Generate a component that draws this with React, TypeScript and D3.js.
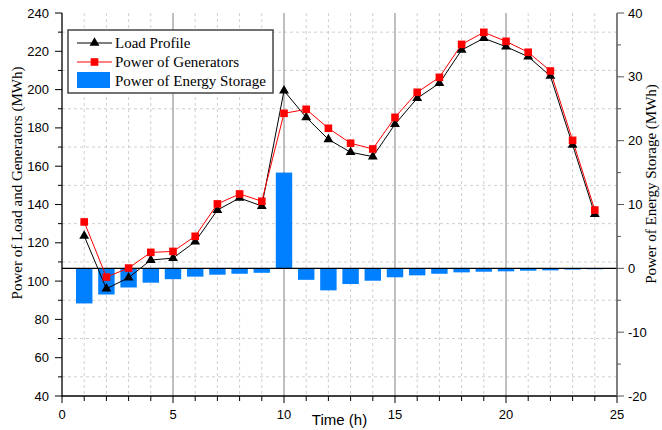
import React from 'react';
import * as d3 from 'd3';

const hours = [1, 2, 3, 4, 5, 6, 7, 8, 9, 10, 11, 12, 13, 14, 15, 16, 17, 18, 19, 20, 21, 22, 23, 24];
const loadProfile = [123.6, 96, 101.8, 111, 112, 120.6, 137.1, 143.4, 139.2, 199.4, 185.5, 174, 167.3, 165, 181.9, 195.5, 203.3, 220.7, 226.8, 222.4, 217.2, 207.1, 171.1, 135];
const generators = [130.9, 102.1, 106.8, 115, 115.5, 123.4, 140.3, 145.5, 141.7, 187.6, 189.7, 179.8, 172, 169, 185.5, 198.6, 206.4, 223.6, 229.9, 225.2, 219.5, 209.7, 173.5, 137.1];
const storage = [-5.5, -4.1, -3.0, -2.25, -1.7, -1.3, -1.0, -0.85, -0.7, 15.0, -1.8, -3.45, -2.46, -1.94, -1.4, -1.1, -0.85, -0.63, -0.53, -0.47, -0.37, -0.32, -0.2, -0.15];

const xTicks = [0, 5, 10, 15, 20, 25];
const leftTicks = [40, 60, 80, 100, 120, 140, 160, 180, 200, 220, 240];
const rightTicks = [-20, -10, 0, 10, 20, 30, 40];

const W = 662;
const H = 430;
const left = 62;
const right = 617;
const top = 13;
const bottom = 396;

const sans = '"Liberation Sans", Arial, sans-serif';
const serif = '"Liberation Serif", "Times New Roman", serif';
const blue = '#0080FF';

const App: React.FC = () => {
  const x = d3.scaleLinear().domain([0, 25]).range([left, right]);
  const yL = d3.scaleLinear().domain([40, 240]).range([bottom, top]);
  const yR = d3.scaleLinear().domain([-20, 40]).range([bottom, top]);

  const barW = (x(1) - x(0)) * 0.74;
  const triangle = d3.symbol().type(d3.symbolTriangle).size(42)()!;
  const square = d3.symbol().type(d3.symbolSquare).size(58)()!;

  const loadLine = d3.line<number>().x((_, i) => x(hours[i])).y(d => yL(d))(loadProfile)!;
  const genLine = d3.line<number>().x((_, i) => x(hours[i])).y(d => yL(d))(generators)!;

  const minorX = d3.range(1, 25).filter(v => v % 5 !== 0);
  const majorXGrid = [5, 10, 15, 20];
  const minorYL = d3.range(50, 240, 20);
  const minorYR = d3.range(-15, 40, 10);

  return (
    <svg width={W} height={H} style={{ position: 'absolute', left: 0, top: 0, background: '#fff' }}>
      {/* grid */}
      {minorX.map(v => (
        <line key={'gx' + v} x1={x(v)} x2={x(v)} y1={top} y2={bottom} stroke="#cfcfcf" strokeDasharray="3,3" />
      ))}
      {minorYL.map(v => (
        <line key={'gy' + v} x1={left} x2={right} y1={yL(v)} y2={yL(v)} stroke="#cfcfcf" strokeDasharray="3,3" />
      ))}
      {majorXGrid.map(v => (
        <line key={'gX' + v} x1={x(v)} x2={x(v)} y1={top} y2={bottom} stroke="#aaaaaa" strokeWidth={1.5} />
      ))}

      {/* storage bars */}
      {storage.map((v, i) => (
        <rect key={'b' + i} x={x(hours[i]) - barW / 2} width={barW}
          y={Math.min(yR(v), yR(0))} height={Math.abs(yR(v) - yR(0))} fill={blue} />
      ))}
      <line x1={left} x2={right} y1={yR(0)} y2={yR(0)} stroke="#000" strokeWidth={1.2} />

      {/* lines */}
      <path d={loadLine} fill="none" stroke="#000" strokeWidth={1} />
      <path d={genLine} fill="none" stroke="#ff0000" strokeWidth={1} />
      {loadProfile.map((v, i) => (
        <path key={'t' + i} d={triangle} transform={`translate(${x(hours[i])},${yL(v)})`} fill="#000" />
      ))}
      {generators.map((v, i) => (
        <path key={'s' + i} d={square} transform={`translate(${x(hours[i])},${yL(v)})`} fill="#ff0000" />
      ))}

      {/* axes */}
      <line x1={left} x2={left} y1={top} y2={bottom + 0.5} stroke="#000" strokeWidth={1.3} />
      <line x1={left} x2={right} y1={bottom} y2={bottom} stroke="#000" strokeWidth={1.3} />
      <line x1={right} x2={right} y1={top} y2={bottom + 0.5} stroke="#555" strokeWidth={1.5} />

      {leftTicks.map(v => (
        <g key={'lt' + v}>
          <line x1={left - 7} x2={left} y1={yL(v)} y2={yL(v)} stroke="#000" />
          <text x={left - 13} y={yL(v)} dy="0.35em" textAnchor="end" fontFamily={sans} fontSize={13}>{v}</text>
        </g>
      ))}
      {minorYL.map(v => (
        <line key={'lm' + v} x1={left - 4} x2={left} y1={yL(v)} y2={yL(v)} stroke="#000" />
      ))}
      {xTicks.map(v => (
        <g key={'xt' + v}>
          <line x1={x(v)} x2={x(v)} y1={bottom} y2={bottom + 7} stroke="#000" />
          <text x={x(v)} y={419} textAnchor="middle" fontFamily={sans} fontSize={13}>{v}</text>
        </g>
      ))}
      {minorX.map(v => (
        <line key={'xm' + v} x1={x(v)} x2={x(v)} y1={bottom} y2={bottom + 5} stroke="#000" />
      ))}
      {rightTicks.map(v => (
        <g key={'rt' + v}>
          <line x1={right} x2={right + 7} y1={yR(v)} y2={yR(v)} stroke="#555" />
          <text x={right + 11} y={yR(v)} dy="0.35em" textAnchor="start" fontFamily={sans} fontSize={13}>{v}</text>
        </g>
      ))}
      {minorYR.map(v => (
        <line key={'rm' + v} x1={right} x2={right + 4} y1={yR(v)} y2={yR(v)} stroke="#555" />
      ))}

      {/* axis titles */}
      <text transform={`translate(22,183) rotate(-90)`} textAnchor="middle"
        fontFamily={serif} fontSize={15}>Power of Load and Generators (MWh)</text>
      <text transform={`translate(656,184) rotate(-90)`} textAnchor="middle"
        fontFamily={serif} fontSize={15}>Power of Energy Storage (MWh)</text>
      <text x={(left + right) / 2} y={425} textAnchor="middle" fontFamily={sans} fontSize={15}>Time (h)</text>

      {/* legend */}
      <g>
        <rect x={68} y={30} width={205} height={63} fill="#fff" stroke="#444" strokeWidth={1.5} />
        <line x1={77} x2={112} y1={43} y2={43} stroke="#555" strokeWidth={1.3} />
        <path d={triangle} transform="translate(94.5,43)" fill="#000" />
        <text x={115} y={43} dy="0.35em" fontFamily={serif} fontSize={15}>Load Profile</text>
        <line x1={77} x2={112} y1={62} y2={62} stroke="#ff0000" strokeWidth={1} />
        <path d={square} transform="translate(94.5,62)" fill="#ff0000" />
        <text x={115} y={62} dy="0.35em" fontFamily={serif} fontSize={15}>Power of Generators</text>
        <rect x={77} y={72} width={33} height={16} fill={blue} />
        <text x={115} y={81} dy="0.35em" fontFamily={serif} fontSize={15}>Power of Energy Storage</text>
      </g>
    </svg>
  );
};

export default App;
